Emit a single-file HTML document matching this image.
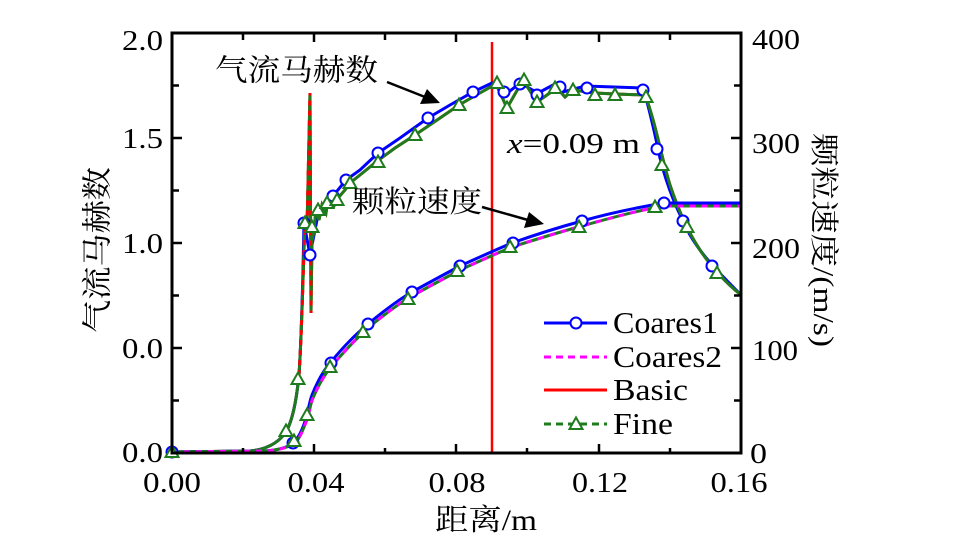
<!DOCTYPE html>
<html><head><meta charset="utf-8"><style>
html,body{margin:0;padding:0;background:#fff;}
svg{display:block;font-family:"Liberation Serif","Times New Roman","DejaVu Serif","Noto Serif CJK SC","Noto Sans CJK SC",serif;}
svg text{font-family:"Liberation Serif","Times New Roman","DejaVu Serif","Noto Serif CJK SC","Noto Sans CJK SC",serif !important;fill:#000;}
</style></head><body>
<svg width="965" height="549" viewBox="0 0 965 549" xmlns="http://www.w3.org/2000/svg">
<defs>
<g id="cir"><circle r="5.5" fill="#fff" stroke="#0000ff" stroke-width="2"/></g>
<g id="tri"><path d="M0,-6.5 L6.5,5 L-6.5,5 Z" fill="#fff" stroke="#1e7b1e" stroke-width="2"/></g>
</defs>
<rect width="965" height="549" fill="#fff"/>

<line x1="492" y1="42" x2="492" y2="452" stroke="#ff0000" stroke-width="2.5"/>

<path d="M172,452 L250,451 C270,449 282,440 288,428 C294,415 297,395 299,375 C302,330 303,270 305,223 L307,228 L310,93 L311,313 L312,240 L314,232 L316,208 L319,220 L322,205 L326,213 L328,200 L334,206 L338,198 L345,190 L350,183 L360,175 L376,162 L395,148 L415,135 L440,118 L459,105 L478,94 L496,84 L507,108 L523,80 L537,102 L557,88 L565,97 L573,90 L595,93 L615,94 L645,95 C655,120 662,160 670,185 C680,215 690,235 700,250 C712,268 725,282 741,295" fill="none" stroke="#ff0000" stroke-width="3"/>
<path d="M172,452 L250,451 C270,449 282,440 288,428 C294,415 297,395 299,375 C302,330 303,270 304,223 L310,255 L318,215 L326,205 L333,196 L346,180 L360,170 L378,153 L400,138 L428,118 L450,105 L473,92 L492,83 L500,85 L505,95 L520,83 L538,93 L553,85 L563,92 L585,86 L643,88 C650,110 655,135 660,158 C668,190 678,212 690,235 C700,252 712,266 741,295" fill="none" stroke="#0000ff" stroke-width="3"/>
<path d="M172,452 L250,451 C270,449 282,440 288,428 C294,415 297,395 299,375 C302,330 303,270 305,223 L307,228 L310,93 L311,313 L312,240 L314,232 L316,208 L319,220 L322,205 L326,213 L328,200 L334,206 L338,198 L345,190 L350,183 L360,175 L376,162 L395,148 L415,135 L440,118 L459,105 L478,94 L496,84 L507,108 L523,80 L537,102 L557,88 L565,97 L573,90 L595,93 L615,94 L645,95 C655,120 662,160 670,185 C680,215 690,235 700,250 C712,268 725,282 741,295" fill="none" stroke="#1e7b1e" stroke-width="3"/>
<path d="M299,375 C302,330 303,270 305,223 L307,228 L310,93 L311,313" fill="none" stroke="#ff0000" stroke-width="3" stroke-dasharray="5 5"/>

<path d="M172,452 L265,451 C280,450 288,447 293,443 C300,437 304,425 307,415 C309,406 310,400 312,395 C318,380 324,370 330,363 C345,345 355,335 368,324 C385,310 398,300 412,292 C430,282 445,274 460,266 C480,257 495,250 512,243 C540,233 560,227 582,221 C610,213 640,207 664,203 L741,203" fill="none" stroke="#0000ff" stroke-width="3"/>
<path d="M172,452 L265,451 C280,450 288,447 294,444 C300,439 304,427 308,417 C310,408 311,402 313,398 C319,384 325,374 331,367 C346,349 356,339 368,328 C385,314 398,304 412,296 C430,286 445,278 460,270 C480,261 495,254 512,247 C540,238 560,232 582,226 C610,218 640,210 664,206 L741,206" fill="none" stroke="#1e7b1e" stroke-width="3"/>
<path d="M172,452 L265,451 C280,450 288,447 294,444 C300,439 304,427 308,417 C310,408 311,402 313,398 C319,384 325,374 331,367 C346,349 356,339 368,328 C385,314 398,304 412,296 C430,286 445,278 460,270 C480,261 495,254 512,247 C540,238 560,232 582,226 C610,218 640,210 664,206 L741,206" fill="none" stroke="#ff00ff" stroke-width="3" stroke-dasharray="6 6"/>

<use href="#cir" x="172" y="452"/>
<use href="#cir" x="304" y="223"/>
<use href="#cir" x="310" y="255"/>
<use href="#cir" x="333" y="196"/>
<use href="#cir" x="346" y="180"/>
<use href="#cir" x="378" y="153"/>
<use href="#cir" x="428" y="118"/>
<use href="#cir" x="473" y="92"/>
<use href="#cir" x="504" y="92"/>
<use href="#cir" x="520" y="84"/>
<use href="#cir" x="537" y="95"/>
<use href="#cir" x="560" y="87"/>
<use href="#cir" x="587" y="88"/>
<use href="#cir" x="643" y="90"/>
<use href="#cir" x="657" y="149"/>
<use href="#cir" x="683" y="221"/>
<use href="#cir" x="712" y="266"/>
<use href="#cir" x="293" y="443"/>
<use href="#cir" x="331" y="363"/>
<use href="#cir" x="368" y="324"/>
<use href="#cir" x="412" y="292"/>
<use href="#cir" x="460" y="266"/>
<use href="#cir" x="513" y="243"/>
<use href="#cir" x="582" y="221"/>
<use href="#cir" x="664" y="203"/>

<use href="#tri" x="172" y="452"/>
<use href="#tri" x="286" y="431"/>
<use href="#tri" x="298" y="379"/>
<use href="#tri" x="305" y="223"/>
<use href="#tri" x="312" y="227"/>
<use href="#tri" x="318" y="210"/>
<use href="#tri" x="327" y="203"/>
<use href="#tri" x="337" y="200"/>
<use href="#tri" x="350" y="183"/>
<use href="#tri" x="378" y="162"/>
<use href="#tri" x="415" y="135"/>
<use href="#tri" x="459" y="105"/>
<use href="#tri" x="497" y="83"/>
<use href="#tri" x="507" y="108"/>
<use href="#tri" x="524" y="80"/>
<use href="#tri" x="537" y="102"/>
<use href="#tri" x="555" y="88"/>
<use href="#tri" x="573" y="90"/>
<use href="#tri" x="595" y="95"/>
<use href="#tri" x="615" y="95"/>
<use href="#tri" x="646" y="97"/>
<use href="#tri" x="662" y="165"/>
<use href="#tri" x="687" y="227"/>
<use href="#tri" x="717" y="273"/>
<use href="#tri" x="294" y="441"/>
<use href="#tri" x="307" y="415"/>
<use href="#tri" x="330" y="367"/>
<use href="#tri" x="363" y="332"/>
<use href="#tri" x="408" y="299"/>
<use href="#tri" x="457" y="271"/>
<use href="#tri" x="510" y="247"/>
<use href="#tri" x="579" y="227"/>
<use href="#tri" x="655" y="207"/>

<rect x="172" y="33" width="569" height="420" fill="none" stroke="#000" stroke-width="3"/>
<g stroke="#000" stroke-width="2.5">
<line x1="314" y1="453" x2="314" y2="444"/><line x1="456" y1="453" x2="456" y2="444"/><line x1="599" y1="453" x2="599" y2="444"/>
<line x1="243" y1="453" x2="243" y2="448"/><line x1="385" y1="453" x2="385" y2="448"/><line x1="527" y1="453" x2="527" y2="448"/><line x1="670" y1="453" x2="670" y2="448"/>
<line x1="314" y1="33" x2="314" y2="42"/><line x1="456" y1="33" x2="456" y2="42"/><line x1="599" y1="33" x2="599" y2="42"/>
<line x1="243" y1="33" x2="243" y2="40"/><line x1="385" y1="33" x2="385" y2="40"/><line x1="527" y1="33" x2="527" y2="40"/><line x1="670" y1="33" x2="670" y2="40"/>
<line x1="172" y1="138" x2="182" y2="138"/><line x1="172" y1="243" x2="182" y2="243"/><line x1="172" y1="348" x2="182" y2="348"/>
<line x1="172" y1="85.5" x2="179" y2="85.5"/><line x1="172" y1="190.5" x2="179" y2="190.5"/><line x1="172" y1="295.5" x2="179" y2="295.5"/><line x1="172" y1="400.5" x2="179" y2="400.5"/>
<line x1="741" y1="138" x2="731" y2="138"/><line x1="741" y1="243" x2="731" y2="243"/><line x1="741" y1="348" x2="731" y2="348"/>
<line x1="741" y1="85.5" x2="734" y2="85.5"/><line x1="741" y1="190.5" x2="734" y2="190.5"/><line x1="741" y1="295.5" x2="734" y2="295.5"/><line x1="741" y1="400.5" x2="734" y2="400.5"/>
</g>

<g font-size="28" text-anchor="end">
<text x="163" y="50" textLength="41" lengthAdjust="spacingAndGlyphs">2.0</text>
<text x="163" y="148" textLength="41" lengthAdjust="spacingAndGlyphs">1.5</text>
<text x="163" y="253" textLength="41" lengthAdjust="spacingAndGlyphs">1.0</text>
<text x="163" y="358" textLength="41" lengthAdjust="spacingAndGlyphs">0.0</text>
<text x="163" y="462" textLength="41" lengthAdjust="spacingAndGlyphs">0.0</text>
</g>
<g font-size="28">
<text x="752" y="49" textLength="48" lengthAdjust="spacingAndGlyphs">400</text>
<text x="752" y="153" textLength="48" lengthAdjust="spacingAndGlyphs">300</text>
<text x="752" y="258" textLength="48" lengthAdjust="spacingAndGlyphs">200</text>
<text x="752" y="360" textLength="46" lengthAdjust="spacingAndGlyphs">100</text>
<text x="750" y="463" textLength="17" lengthAdjust="spacingAndGlyphs">0</text>
</g>
<g font-size="29" text-anchor="middle">
<text x="172" y="492" textLength="58" lengthAdjust="spacingAndGlyphs">0.00</text>
<text x="316" y="492" textLength="57" lengthAdjust="spacingAndGlyphs">0.04</text>
<text x="457" y="492" textLength="57" lengthAdjust="spacingAndGlyphs">0.08</text>
<text x="600" y="492" textLength="56" lengthAdjust="spacingAndGlyphs">0.12</text>
<text x="739" y="492" textLength="57" lengthAdjust="spacingAndGlyphs">0.16</text>
</g>

<text x="435" y="530" font-size="30" textLength="102" lengthAdjust="spacingAndGlyphs">距离/m</text>
<text transform="translate(98,250) rotate(-90)" font-size="30" text-anchor="middle" dominant-baseline="central" textLength="166" lengthAdjust="spacingAndGlyphs">气流马赫数</text>
<text transform="translate(823,240) rotate(90)" font-size="29" text-anchor="middle" dominant-baseline="central" textLength="214" lengthAdjust="spacingAndGlyphs">颗粒速度/(m/s)</text>

<text x="215" y="71" font-size="30" dominant-baseline="central" textLength="163" lengthAdjust="spacingAndGlyphs">气流马赫数</text>
<text x="352" y="202.5" font-size="30" dominant-baseline="central" textLength="130" lengthAdjust="spacingAndGlyphs">颗粒速度</text>
<text x="507" y="153" font-size="28" textLength="133" lengthAdjust="spacingAndGlyphs"><tspan font-style="italic">x</tspan>=0.09 m</text>

<line x1="387" y1="82" x2="425" y2="97" stroke="#000" stroke-width="2.5"/>
<path d="M440,103 L420,104 L427,89 Z" fill="#000"/>
<line x1="482" y1="207" x2="528" y2="220" stroke="#000" stroke-width="2.5"/>
<path d="M544,224 L524,228 L529,212 Z" fill="#000"/>

<line x1="544" y1="323" x2="607" y2="323" stroke="#0000ff" stroke-width="3"/>
<circle cx="576" cy="323" r="5.5" fill="#fff" stroke="#0000ff" stroke-width="2"/>
<line x1="544" y1="357" x2="607" y2="357" stroke="#ff00ff" stroke-width="3" stroke-dasharray="7 5"/>
<line x1="544" y1="390" x2="607" y2="390" stroke="#ff0000" stroke-width="3"/>
<line x1="544" y1="424" x2="607" y2="424" stroke="#1e7b1e" stroke-width="3" stroke-dasharray="7 5"/>
<path d="M576,417.5 L582.5,429 L569.5,429 Z" fill="#fff" stroke="#1e7b1e" stroke-width="2"/>
<g font-size="31">
<text x="613" y="333" textLength="105" lengthAdjust="spacingAndGlyphs">Coares1</text>
<text x="613" y="367" textLength="109" lengthAdjust="spacingAndGlyphs">Coares2</text>
<text x="613" y="400" textLength="75" lengthAdjust="spacingAndGlyphs">Basic</text>
<text x="613" y="434" textLength="60" lengthAdjust="spacingAndGlyphs">Fine</text>
</g>
</svg>
</body></html>
